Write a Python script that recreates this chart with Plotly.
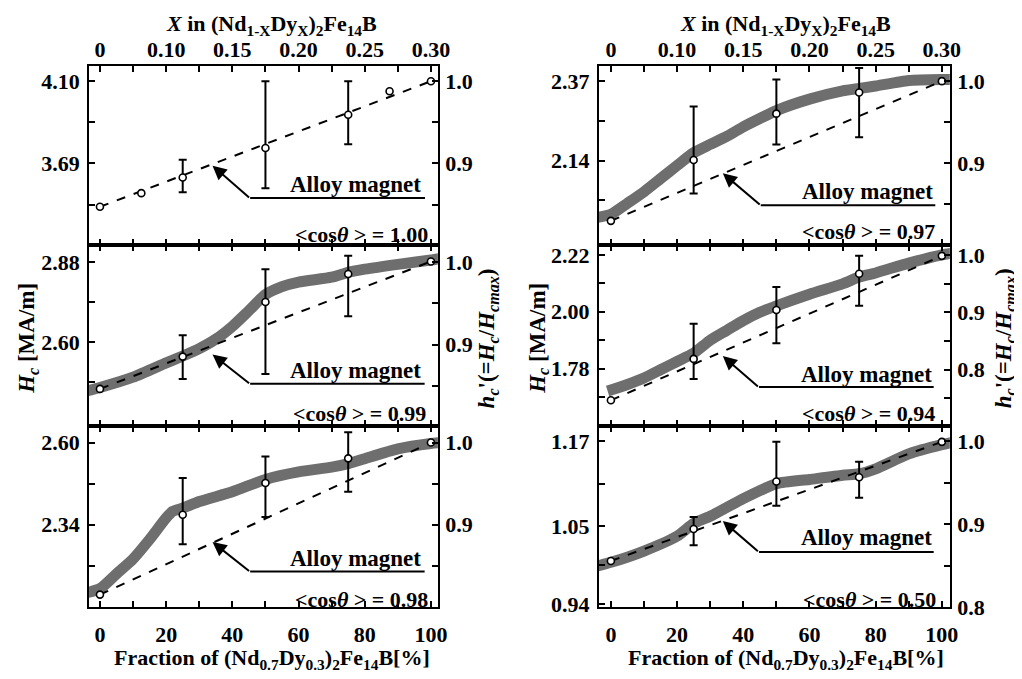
import plotly.graph_objects as go

# ---------------- data ----------------
frac_tickvals = [0, 10, 20, 30, 40, 50, 60, 70, 80, 90, 100]
frac_ticktext = ["0", "", "20", "", "40", "", "60", "", "80", "", "100"]
top_tickvals = [0, 20, 40, 60, 80, 100]
top_ticktext = ["0", "0.10", "0.15", "0.20", "0.25", "0.30"]
alloy_frac = [0, 100]
err_frac = [25, 50, 75]
cos_values = ["1.00", "0.99", "0.98", "0.97", "0.94", "0.50"]

# Panel 1  <cos> = 1.00
p1_hcmax = 4.10
p1_pts_frac = [0, 12.5, 25, 50, 75, 87.5, 100]
p1_pts_hc = [3.474, 3.542, 3.620, 3.767, 3.933, 4.050, 4.10]
p1_err_hc = [3.620, 3.767, 3.933]
p1_err_hi = [3.708, 4.10, 4.10]
p1_err_lo = [3.547, 3.567, 3.786]
p1_alloy_hc = [3.474, 4.10]
p1_left_tickvals = [4.10, 3.895, 3.69, 3.485]
p1_left_ticktext = ["4.10", "", "3.69", ""]

# Panel 2  <cos> = 0.99
p2_hcmax = 2.88
p2_pts_frac = [0, 25, 50, 75, 100]
p2_pts_hc = [2.437, 2.550, 2.741, 2.839, 2.883]
p2_err_hc = [2.550, 2.741, 2.839]
p2_err_hi = [2.625, 2.856, 2.903]
p2_err_lo = [2.472, 2.489, 2.691]
p2_alloy_hc = [2.437, 2.883]
p2_band_frac = [-4, 0, 10, 20, 25, 30, 35, 40, 45, 50, 55, 60, 70, 75, 80, 90, 100, 103]
p2_band_hc = [2.430, 2.442, 2.478, 2.528, 2.552, 2.578, 2.611, 2.656, 2.711, 2.767,
              2.795, 2.811, 2.828, 2.845, 2.856, 2.873, 2.888, 2.894]
p2_left_tickvals = [2.88, 2.74, 2.60, 2.46]
p2_left_ticktext = ["2.88", "", "2.60", ""]

# Panel 3  <cos> = 0.98
p3_hcmax = 2.60
p3_pts_frac = [0, 25, 50, 75, 100]
p3_pts_hc = [2.118, 2.371, 2.472, 2.550, 2.600]
p3_err_hc = [2.371, 2.472, 2.550]
p3_err_hi = [2.488, 2.556, 2.633]
p3_err_lo = [2.278, 2.364, 2.444]
p3_alloy_hc = [2.118, 2.600]
p3_band_frac = [-4, 0, 5, 10, 15, 20, 22, 25, 30, 40, 50, 60, 70, 75, 80, 90, 100, 103]
p3_band_hc = [2.124, 2.137, 2.184, 2.231, 2.293, 2.361, 2.382, 2.392, 2.413, 2.444,
              2.483, 2.507, 2.522, 2.533, 2.549, 2.580, 2.597, 2.600]
p3_left_tickvals = [2.60, 2.47, 2.34, 2.21]
p3_left_ticktext = ["2.60", "", "2.34", ""]

# Panel 4  <cos> = 0.97
p4_hcmax = 2.37
p4_pts_frac = [0, 25, 50, 75, 100]
p4_pts_hc = [1.966, 2.142, 2.276, 2.337, 2.370]
p4_err_hc = [2.142, 2.276, 2.337]
p4_err_hi = [2.297, 2.375, 2.408]
p4_err_lo = [2.045, 2.187, 2.208]
p4_alloy_hc = [1.966, 2.370]
p4_band_frac = [-4, 0, 5, 10, 15, 20, 25, 30, 35, 40, 45, 50, 60, 70, 75, 80, 90, 100, 103]
p4_band_hc = [1.976, 1.985, 2.017, 2.050, 2.088, 2.126, 2.163, 2.187, 2.210, 2.238,
              2.262, 2.285, 2.318, 2.342, 2.349, 2.356, 2.372, 2.375, 2.375]
p4_left_tickvals = [2.37, 2.255, 2.14, 2.025]
p4_left_ticktext = ["2.37", "", "2.14", ""]

# Panel 5  <cos> = 0.94
p5_hcmax = 2.22
p5_pts_frac = [0, 25, 50, 75, 100]
p5_pts_hc = [1.658, 1.818, 2.007, 2.147, 2.216]
p5_err_hc = [1.818, 2.007, 2.147]
p5_err_hi = [1.954, 2.096, 2.216]
p5_err_lo = [1.740, 1.878, 2.023]
p5_alloy_hc = [1.658, 2.216]
p5_band_frac = [-1, 0, 5, 10, 15, 20, 25, 30, 35, 40, 45, 50, 60, 70, 75, 80, 90, 100, 103]
p5_band_hc = [1.694, 1.698, 1.719, 1.744, 1.776, 1.808, 1.840, 1.890, 1.928, 1.966,
              1.998, 2.023, 2.068, 2.108, 2.134, 2.150, 2.188, 2.220, 2.226]
p5_left_tickvals = [2.22, 2.11, 2.00, 1.89, 1.78, 1.67]
p5_left_ticktext = ["2.22", "", "2.00", "", "1.78", ""]

# Panel 6  <cos> = 0.50
p6_hcmax = 1.17
p6_pts_frac = [0, 25, 50, 75, 100]
p6_pts_hc = [1.001, 1.046, 1.113, 1.119, 1.169]
p6_err_hc = [1.046, 1.113, 1.119]
p6_err_hi = [1.063, 1.169, 1.141]
p6_err_lo = [1.023, 1.079, 1.090]
p6_alloy_hc = [1.001, 1.169]
p6_band_frac = [-4, 0, 10, 20, 25, 30, 40, 50, 60, 70, 75, 80, 90, 100, 103]
p6_band_hc = [0.994, 0.999, 1.015, 1.036, 1.054, 1.064, 1.089, 1.110, 1.116, 1.122,
              1.124, 1.131, 1.152, 1.165, 1.168]
p6_left_tickvals = [1.17, 1.11, 1.05, 0.995, 0.94]
p6_left_ticktext = ["1.17", "", "1.05", "", "0.94"]

norm_tickvals_a = [1.0, 0.95, 0.9, 0.85]
norm_ticktext_a = ["1.0", "", "0.9", ""]
norm_tickvals_b = [1.0, 0.95, 0.9, 0.85, 0.8, 0.75]
norm_ticktext_b = ["1.0", "", "0.9", "", "0.8", ""]
norm_tickvals_c = [1.0, 0.95, 0.9, 0.85, 0.8]
norm_ticktext_c = ["1.0", "", "0.9", "", "0.8"]

# ---------------- layout geometry ----------------
FONT = "Liberation Serif"
BAND = "#6e6e6e"
W, H = 1022, 679
col_x = [[82 / W, 435 / W], [598 / W, 953 / W]]
col_px = [353, 355]
row_y = [[1 - 240 / H, 1 - 57 / H], [1 - 425 / H, 1 - 240 / H], [1 - 610 / H, 1 - 425 / H]]
row_px = [183, 185, 185]
x_ranges = [[-3.3, 102.1], [-3.6, 102.4]]


def tf(size=22):
    return dict(family=FONT, size=size, color="black")


def st(t):
    return f"<b>{t}</b>" if t else ""


def bold(labels):
    return [st(t) for t in labels]


panels = [
    dict(col=0, row=0, hcmax=p1_hcmax, nrange=[0.8008, 1.0187], pf=p1_pts_frac, ph=p1_pts_hc,
         eh=p1_err_hc, ehi=p1_err_hi, elo=p1_err_lo, ah=p1_alloy_hc, bf=None, bh=None,
         lt=p1_left_tickvals, ll=p1_left_ticktext, rt=norm_tickvals_a, rl=norm_ticktext_a,
         tip=(0.354, 0.4426), elbow=(0.4618, 0.2623), end=0.963, txt=(0.765, 0.339), cos=(0.977, 0.06)),
    dict(col=0, row=1, hcmax=p2_hcmax, nrange=[0.8008, 1.021], pf=p2_pts_frac, ph=p2_pts_hc,
         eh=p2_err_hc, ehi=p2_err_hi, elo=p2_err_lo, ah=p2_alloy_hc, bf=p2_band_frac, bh=p2_band_hc,
         lt=p2_left_tickvals, ll=p2_left_ticktext, rt=norm_tickvals_a, rl=norm_ticktext_a,
         tip=(0.354, 0.396), elbow=(0.4618, 0.234), end=0.962, txt=(0.765, 0.308), cos=(0.972, 0.072)),
    dict(col=0, row=2, hcmax=p3_hcmax, nrange=[0.799, 1.0199], pf=p3_pts_frac, ph=p3_pts_hc,
         eh=p3_err_hc, ehi=p3_err_hi, elo=p3_err_lo, ah=p3_alloy_hc, bf=p3_band_frac, bh=p3_band_hc,
         lt=p3_left_tickvals, ll=p3_left_ticktext, rt=norm_tickvals_a, rl=norm_ticktext_a,
         tip=(0.354, 0.3605), elbow=(0.4618, 0.198), end=0.962, txt=(0.765, 0.27), cos=(0.976, 0.045)),
    dict(col=1, row=0, hcmax=p4_hcmax, nrange=[0.800, 1.0187], pf=p4_pts_frac, ph=p4_pts_hc,
         eh=p4_err_hc, ehi=p4_err_hi, elo=p4_err_lo, ah=p4_alloy_hc, bf=p4_band_frac, bh=p4_band_hc,
         lt=p4_left_tickvals, ll=p4_left_ticktext, rt=norm_tickvals_a, rl=norm_ticktext_a,
         tip=(0.353, 0.4005), elbow=(0.4611, 0.2224), end=0.9586, txt=(0.766, 0.30), cos=(0.963, 0.073)),
    dict(col=1, row=1, hcmax=p5_hcmax, nrange=[0.7017, 1.017], pf=p5_pts_frac, ph=p5_pts_hc,
         eh=p5_err_hc, ehi=p5_err_hi, elo=p5_err_lo, ah=p5_alloy_hc, bf=p5_band_frac, bh=p5_band_hc,
         lt=p5_left_tickvals, ll=p5_left_ticktext, rt=norm_tickvals_b, rl=norm_ticktext_b,
         tip=(0.353, 0.3876), elbow=(0.456, 0.216), end=0.954, txt=(0.762, 0.288), cos=(0.963, 0.072)),
    dict(col=1, row=2, hcmax=p6_hcmax, nrange=[0.7995, 1.018], pf=p6_pts_frac, ph=p6_pts_hc,
         eh=p6_err_hc, ehi=p6_err_hi, elo=p6_err_lo, ah=p6_alloy_hc, bf=p6_band_frac, bh=p6_band_hc,
         lt=p6_left_tickvals, ll=p6_left_ticktext, rt=norm_tickvals_c, rl=norm_ticktext_c,
         tip=(0.353, 0.477), elbow=(0.456, 0.3065), end=0.954, txt=(0.762, 0.3876), cos=(0.967, 0.045)),
]

fig = go.Figure()
layout = dict(width=W, height=H, margin=dict(l=0, r=0, t=0, b=0),
              paper_bgcolor="white", plot_bgcolor="white", showlegend=False,
              font=dict(family=FONT, color="black"))
annotations = []
shapes = []

for i, p in enumerate(panels, start=1):
    xa = "x" if i == 1 else f"x{i}"
    ya = "y" if i == 1 else f"y{i}"
    yr = f"y{i + 6}"
    xkey = "xaxis" if i == 1 else f"xaxis{i}"
    ykey = "yaxis" if i == 1 else f"yaxis{i}"
    rkey = f"yaxis{i + 6}"
    c, r = p["col"], p["row"]
    lo, hi = p["nrange"]
    bottom = (r == 2)

    layout[xkey] = dict(domain=col_x[c], anchor=ya, range=x_ranges[c],
                        tickvals=frac_tickvals, ticktext=bold(frac_ticktext),
                        showticklabels=bottom, ticks="inside", ticklen=6, tickwidth=2,
                        tickcolor="black", showline=True, linecolor="black", linewidth=2,
                        mirror="ticks", showgrid=False, zeroline=False, tickfont=tf(),
                        ticklabelstandoff=6)
    layout[ykey] = dict(domain=row_y[r], anchor=xa, range=[lo * p["hcmax"], hi * p["hcmax"]],
                        tickvals=p["lt"], ticktext=bold(p["ll"]), ticks="inside", ticklen=6,
                        tickwidth=2, tickcolor="black", showline=True, linecolor="black",
                        linewidth=2, showgrid=False, zeroline=False, tickfont=tf(),
                        ticklabelstandoff=3)
    layout[rkey] = dict(overlaying=ya, anchor=xa, side="right", range=[lo, hi],
                        tickvals=p["rt"], ticktext=bold(p["rl"]), ticks="inside", ticklen=6,
                        tickwidth=2, tickcolor="black", showline=True, linecolor="black",
                        linewidth=2, showgrid=False, zeroline=False, tickfont=tf(),
                        ticklabelstandoff=1)
    # normalised points (h_c' = Hc / Hcmax) on the right axis, invisible: registers the axis
    fig.add_trace(go.Scatter(x=p["pf"], y=[v / p["hcmax"] for v in p["ph"]], mode="markers",
                             xaxis=xa, yaxis=yr, marker=dict(size=1, color="rgba(0,0,0,0)"),
                             hoverinfo="skip"))

    if p["bf"] is not None:
        fig.add_trace(go.Scatter(x=p["bf"], y=p["bh"], mode="lines", xaxis=xa, yaxis=ya,
                                 line=dict(color=BAND, width=11, shape="spline", smoothing=0.6),
                                 hoverinfo="skip"))
    fig.add_trace(go.Scatter(x=alloy_frac, y=p["ah"], mode="lines", xaxis=xa, yaxis=ya,
                             line=dict(color="black", width=2, dash="dash")))
    fig.add_trace(go.Scatter(x=err_frac, y=p["eh"], mode="markers", xaxis=xa, yaxis=ya,
                             marker=dict(size=1, color="rgba(0,0,0,0)"),
                             error_y=dict(type="data", symmetric=False,
                                          array=[h - v for h, v in zip(p["ehi"], p["eh"])],
                                          arrayminus=[v - l for v, l in zip(p["eh"], p["elo"])],
                                          color="black", thickness=2, width=4)))
    fig.add_trace(go.Scatter(x=p["pf"], y=p["ph"], mode="markers", xaxis=xa, yaxis=ya,
                             marker=dict(symbol="circle", size=7, color="white",
                                         line=dict(color="black", width=1.6))))

    xd, yd = f"{xa} domain", f"{ya} domain"
    tx, ty = p["tip"]
    ex, ey = p["elbow"]
    annotations.append(dict(x=tx, y=ty, xref=xd, yref=yd, text=" ", font=dict(family=FONT, size=1),
                            showarrow=True,
                            ax=(ex - tx) * col_px[c], ay=(ty - ey) * row_px[r],
                            arrowhead=2, arrowsize=1.4, arrowwidth=2, arrowcolor="black"))
    shapes.append(dict(type="line", xref=xd, yref=yd, x0=ex, x1=p["end"], y0=ey, y1=ey,
                       line=dict(color="black", width=2)))
    annotations.append(dict(x=p["txt"][0], y=p["txt"][1], xref=xd, yref=yd,
                            text=st("Alloy magnet"), showarrow=False, font=tf(23),
                            xanchor="center", yanchor="middle"))
    annotations.append(dict(x=p["cos"][0], y=p["cos"][1], xref=xd, yref=yd,
                            text=st(f"&lt;cos<i>θ</i> &gt; = {cos_values[i - 1]}"), showarrow=False,
                            font=tf(22), xanchor="right", yanchor="middle"))

# top composition axes (X in the alloy), labels only
for k, (pi, c) in enumerate([(0, 0), (3, 1)]):
    key = f"xaxis{7 + k}"
    base = "x" if pi == 0 else f"x{pi + 1}"
    yb = "y" if pi == 0 else f"y{pi + 1}"
    layout[key] = dict(overlaying=base, anchor=yb, side="top", range=x_ranges[c],
                       tickvals=top_tickvals, ticktext=bold(top_ticktext), ticks="",
                       showline=False, showgrid=False, zeroline=False, tickfont=tf(),
                       ticklabelstandoff=3)
    fig.add_trace(go.Scatter(x=panels[pi]["pf"], y=panels[pi]["ph"], mode="markers",
                             xaxis=f"x{7 + k}", yaxis=yb,
                             marker=dict(size=1, color="rgba(0,0,0,0)"), hoverinfo="skip"))

# axis titles
top_title = st("<i>X</i> in (Nd<sub>1-X</sub>Dy<sub>X</sub>)<sub>2</sub>Fe<sub>14</sub>B")
bot_title = st("Fraction of (Nd<sub>0.7</sub>Dy<sub>0.3</sub>)<sub>2</sub>Fe<sub>14</sub>B[%]")
hc_title = st("<i>H<sub>c</sub></i> [MA/m]")
hn_title = st("<i>h<sub>c</sub></i>'(=<i>H<sub>c</sub></i>/<i>H<sub>cmax</sub></i>)")
for cx in (267 / W, 787 / W):
    annotations.append(dict(x=cx, y=1 - 15 / H, xref="paper", yref="paper", text=top_title,
                            showarrow=False, font=tf(22), xanchor="center", yanchor="middle"))
    annotations.append(dict(x=cx, y=1 - 663 / H, xref="paper", yref="paper", text=bot_title,
                            showarrow=False, font=tf(22), xanchor="center", yanchor="middle"))
for cx in (20 / W, 537 / W):
    annotations.append(dict(x=cx, y=1 - 335 / H, xref="paper", yref="paper", text=hc_title,
                            showarrow=False, font=tf(23), textangle=-90,
                            xanchor="center", yanchor="middle"))
for cx in (486 / W, 1009 / W):
    annotations.append(dict(x=cx, y=1 - 335 / H, xref="paper", yref="paper", text=hn_title,
                            showarrow=False, font=tf(23), textangle=-90,
                            xanchor="center", yanchor="middle"))

layout["annotations"] = annotations
layout["shapes"] = shapes
fig.update_layout(**layout)
fig.write_html("out.html")
